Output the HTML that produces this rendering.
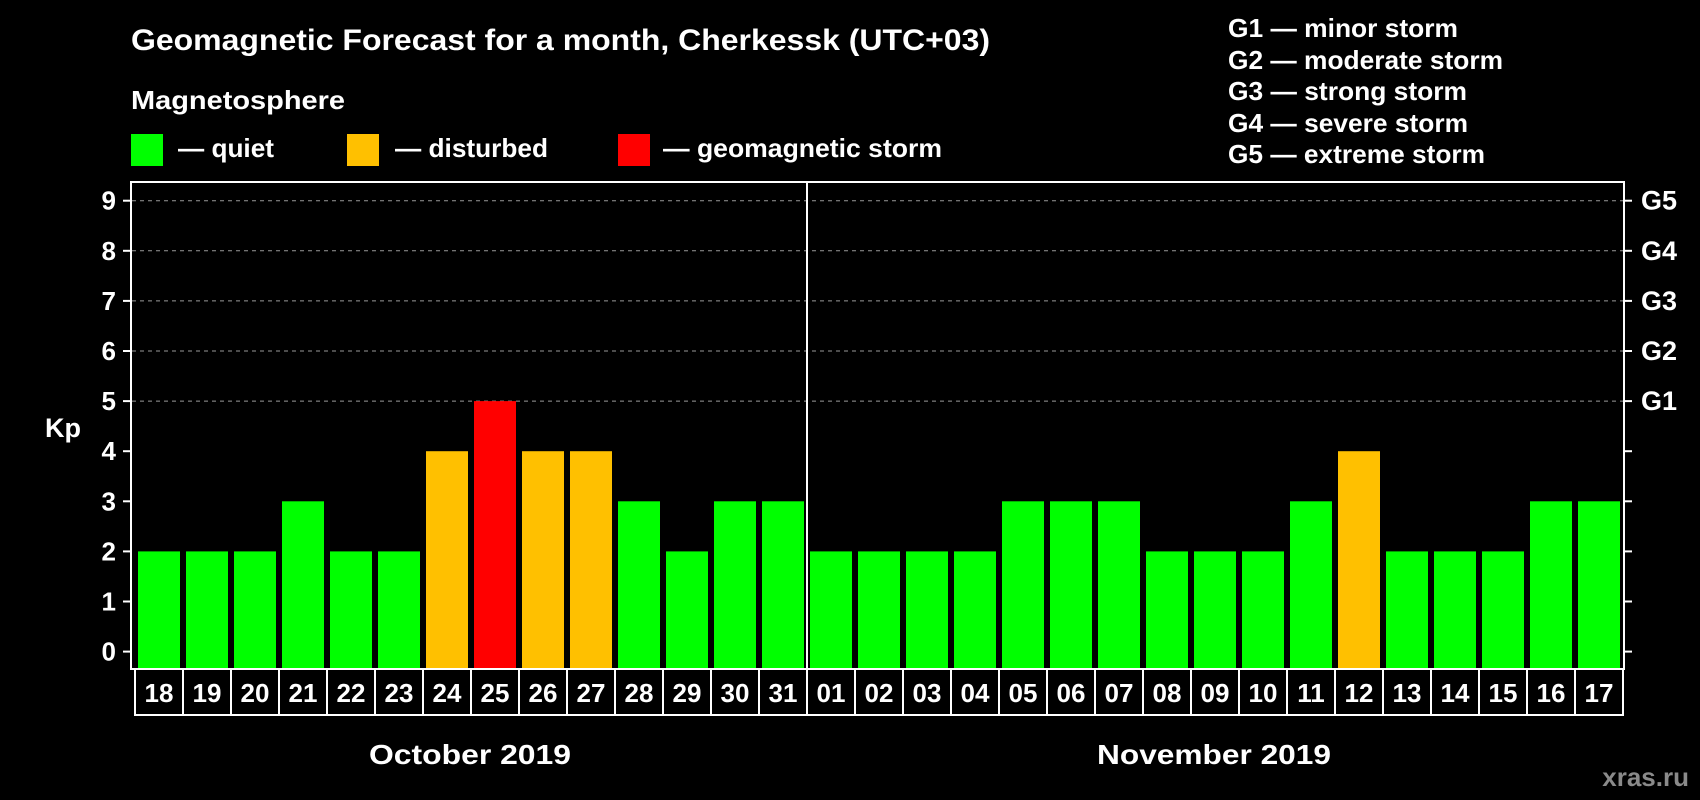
<!DOCTYPE html>
<html><head><meta charset="utf-8"><style>
html,body{margin:0;padding:0;background:#000;}
svg{display:block;font-family:"Liberation Sans",Arial,sans-serif;font-weight:bold;}
</style></head><body>
<svg id="chart" width="1700" height="800" viewBox="0 0 1700 800">
<rect width="1700" height="800" fill="#000"/>
<text x="131" y="50" fill="#fff" font-size="30" textLength="859" lengthAdjust="spacingAndGlyphs">Geomagnetic Forecast for a month, Cherkessk (UTC+03)</text>
<text x="131" y="109" fill="#fff" font-size="26" textLength="214" lengthAdjust="spacingAndGlyphs">Magnetosphere</text>
<g><rect x="131" y="134" width="32" height="32" fill="#00ff00"/><text x="178" y="157" fill="#fff" font-size="26" textLength="96" lengthAdjust="spacingAndGlyphs">— quiet</text></g>
<g><rect x="347" y="134" width="32" height="32" fill="#ffc000"/><text x="395" y="157" fill="#fff" font-size="26" textLength="153" lengthAdjust="spacingAndGlyphs">— disturbed</text></g>
<g><rect x="618" y="134" width="32" height="32" fill="#ff0000"/><text x="663" y="157" fill="#fff" font-size="26" textLength="279" lengthAdjust="spacingAndGlyphs">— geomagnetic storm</text></g>
<g fill="#fff" font-size="26">
<text x="1228" y="37" textLength="230" lengthAdjust="spacingAndGlyphs">G1 — minor storm</text>
<text x="1228" y="69" textLength="275" lengthAdjust="spacingAndGlyphs">G2 — moderate storm</text>
<text x="1228" y="100" textLength="239" lengthAdjust="spacingAndGlyphs">G3 — strong storm</text>
<text x="1228" y="132" textLength="240" lengthAdjust="spacingAndGlyphs">G4 — severe storm</text>
<text x="1228" y="163" textLength="257" lengthAdjust="spacingAndGlyphs">G5 — extreme storm</text>
</g>
<g id="grid"></g>
<g id="bars"></g>
<rect x="131" y="182" width="1493" height="487" fill="none" stroke="#fff" stroke-width="2"/>
<line x1="807" y1="182" x2="807" y2="715" stroke="#fff" stroke-width="2"/>
<g id="axes"></g>
<g id="dates"></g>
<text x="63" y="437" fill="#fff" font-size="27" text-anchor="middle">Kp</text>
<text x="470" y="764" fill="#fff" font-size="28" text-anchor="middle" textLength="202" lengthAdjust="spacingAndGlyphs">October 2019</text>
<text x="1214" y="764" fill="#fff" font-size="28" text-anchor="middle" textLength="234" lengthAdjust="spacingAndGlyphs">November 2019</text>
<text x="1689" y="786" fill="#8a8a8a" font-size="26" text-anchor="end">xras.ru</text>
</svg>
<script>
const days = ["18","19","20","21","22","23","24","25","26","27","28","29","30","31","01","02","03","04","05","06","07","08","09","10","11","12","13","14","15","16","17"];
const kpValues = [2,2,2,3,2,2,4,5,4,4,3,2,3,3,2,2,2,2,3,3,3,2,2,2,3,4,2,2,2,3,3];
const yTicks = [0,1,2,3,4,5,6,7,8,9];
const gLabels = ["","","","","","G1","G2","G3","G4","G5"];
const NS = "http://www.w3.org/2000/svg";
const BASE = 669;
function y(v){ return 651.6 - v*50.1; }
function xl(i){ return 138 + i*48; }
function mk(tag, attrs, parent){ const e=document.createElementNS(NS,tag); for(const k in attrs) e.setAttribute(k,attrs[k]); parent.appendChild(e); return e; }
const grid=document.getElementById('grid'), bars=document.getElementById('bars'), axes=document.getElementById('axes'), dates=document.getElementById('dates');
yTicks.forEach(function(t){
  if(t>=5){
    const g=mk('line',{x1:132,x2:1623,y1:y(t),y2:y(t),stroke:'#999','stroke-width':1,'stroke-dasharray':'4,4'},grid);
    
    
  }
  const tl=mk('line',{x1:123,x2:131,y1:y(t),y2:y(t),stroke:'#fff','stroke-width':2},axes);
  
  
  const tr=mk('line',{x1:1624,x2:1632,y1:y(t),y2:y(t),stroke:'#fff','stroke-width':2},axes);
  
  
  const lb=mk('text',{x:116,y:y(t)+9,fill:'#fff','font-size':26,'text-anchor':'end'},axes);
  lb.textContent=t;
  
  
  if(gLabels[t]){
    const gl=mk('text',{x:1641,y:y(t)+9,fill:'#fff','font-size':27},axes);
    gl.textContent=gLabels[t];
    
    
  }
});
kpValues.forEach(function(v,i){
  const col = v>=5 ? '#ff0000' : (v>=4 ? '#ffc000' : '#00ff00');
  const r=mk('rect',{x:xl(i),y:y(v),width:42,height:BASE-y(v),fill:col},bars);
  
  
});
days.forEach(function(d,i){
  const bx=mk('rect',{x:135+i*48,y:BASE,width:48,height:46,fill:'none',stroke:'#fff','stroke-width':2},dates);
  
  
  const t=mk('text',{x:159+i*48,y:702,fill:'#fff','font-size':26,'text-anchor':'middle'},dates);
  t.textContent=d;
  
  
});
</script>
</body></html>
